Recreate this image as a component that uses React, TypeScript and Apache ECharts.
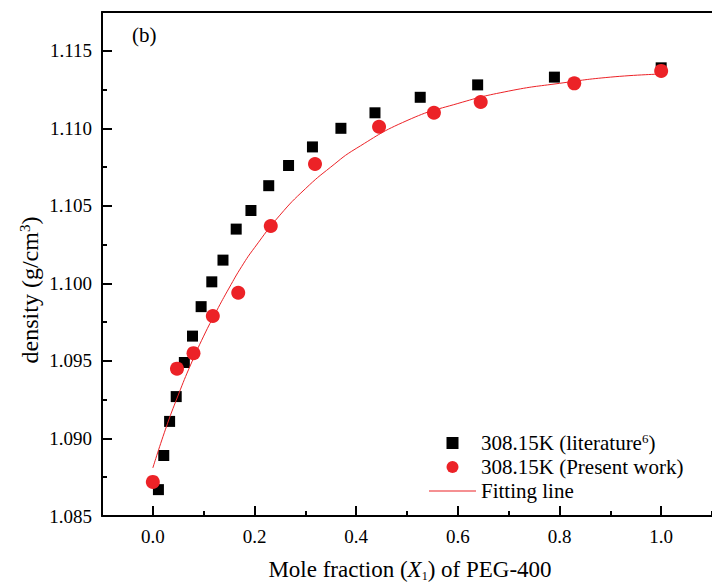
import React, { useEffect, useRef } from "react";
import * as echarts from "echarts";

// literature data (308.15 K)
const litX = [0.011, 0.0215, 0.033, 0.046, 0.062, 0.078, 0.095, 0.116, 0.138, 0.164, 0.193, 0.228, 0.267, 0.314, 0.37, 0.437, 0.526, 0.639, 0.79, 1.0];
const litY = [1.0867, 1.0889, 1.0911, 1.0927, 1.0949, 1.0966, 1.0985, 1.1001, 1.1015, 1.1035, 1.1047, 1.1063, 1.1076, 1.1088, 1.11, 1.111, 1.112, 1.1128, 1.1133, 1.1139];

// present work (308.15 K)
const presX = [0.0, 0.0475, 0.08, 0.118, 0.168, 0.232, 0.319, 0.445, 0.553, 0.645, 0.829, 1.0];
const presY = [1.0872, 1.0945, 1.0955, 1.0979, 1.0994, 1.1037, 1.1077, 1.1101, 1.111, 1.1117, 1.1129, 1.1137];

// fitting line
const fitX = [0.0, 0.025, 0.05, 0.075, 0.1, 0.125, 0.15, 0.175, 0.2, 0.25, 0.3, 0.35, 0.4, 0.5, 0.6, 0.7, 0.8, 0.9, 1.0];
const fitY = [1.0881, 1.0906, 1.0928, 1.0948, 1.0966, 1.0982, 1.0997, 1.1011, 1.1023, 1.1044, 1.1061, 1.1075, 1.1087, 1.1105, 1.1116, 1.1124, 1.1129, 1.1133, 1.1135];

const xMajorTicks = [0, 0.2, 0.4, 0.6, 0.8, 1.0];
const seriesNames = ["lit", "pres", "fit"];
const legendLabels: Record<string, string> = {
  lit: "{a|308.15K (literature}{sup|6}{a|)}",
  pres: "{a|308.15K (Present work)}",
  fit: "{a|Fitting line}",
};

const FONT = '"Liberation Serif", "Times New Roman", serif';
const RED = "#ec2227";

export default function App() {
  const ref = useRef<HTMLDivElement>(null);
  useEffect(() => {
    const chart = echarts.init(ref.current!, null, { renderer: "svg" });
    const zip = (xs: number[], ys: number[]) => xs.map((x, i) => [x, ys[i]]);
    const black = { color: "#000", width: 2 };
    const xBase = { type: "value", min: -0.1, max: 1.1, splitLine: { show: false } };
    const yBase = { type: "value", min: 1.085, max: 1.1175, splitLine: { show: false }, position: "left" };

    chart.setOption({
      animation: false,
      backgroundColor: "#fff",
      grid: { left: 102, right: -8, top: 12, bottom: 68, containLabel: false },
      xAxis: [
        {
          ...xBase,
          position: "bottom",
          interval: 0.1,
          axisLine: { show: true, onZero: false, lineStyle: black },
          axisTick: { show: true, inside: true, length: 5, lineStyle: black },
          axisLabel: { show: false },
        },
        {
          ...xBase,
          position: "bottom",
          interval: 0.1,
          axisLine: { show: false, onZero: false },
          axisTick: { show: true, inside: true, length: 10, lineStyle: black, customValues: xMajorTicks },
          axisLabel: {
            show: true,
            customValues: xMajorTicks,
            formatter: (v: number) => v.toFixed(1),
            fontFamily: FONT,
            fontSize: 19,
            color: "#000",
            margin: 11,
          },
        },
        {
          ...xBase,
          position: "top",
          interval: 0.1,
          axisLine: { show: true, onZero: false, lineStyle: black },
          axisTick: { show: false },
          axisLabel: { show: false },
        },
      ],
      yAxis: [
        {
          ...yBase,
          interval: 0.0025,
          axisLine: { show: true, onZero: false, lineStyle: black },
          axisTick: { show: true, inside: true, length: 5, lineStyle: black },
          axisLabel: { show: false },
        },
        {
          ...yBase,
          interval: 0.005,
          axisLine: { show: false, onZero: false },
          axisTick: { show: true, inside: true, length: 10, lineStyle: black },
          axisLabel: {
            show: true,
            showMaxLabel: false,
            formatter: (v: number) => v.toFixed(3),
            fontFamily: FONT,
            fontSize: 19,
            color: "#000",
            margin: 10,
          },
        },
      ],
      legend: {
        data: [
          { name: "lit", icon: "path://M0,0H10V10H0Z", itemStyle: { color: "#000", opacity: 1 } },
          { name: "pres", icon: "path://M6,0A6,6,0,1,1,6,12A6,6,0,1,1,6,0Z", itemStyle: { color: RED, opacity: 1 } },
          { name: "fit", icon: "path://M0,0H47V1.2H0Z", itemStyle: { color: RED, opacity: 1 } },
        ],
        orient: "vertical",
        left: 424,
        top: 427,
        itemWidth: 47,
        itemHeight: 12,
        itemGap: 3,
        symbolKeepAspect: true,
        formatter: (name: string) => legendLabels[name],
        textStyle: {
          color: "#000",
          fontFamily: FONT,
          fontSize: 21,
          rich: {
            a: { fontFamily: FONT, fontSize: 21, color: "#000", lineHeight: 22 },
            sup: { fontFamily: FONT, fontSize: 13, color: "#000", lineHeight: 12, verticalAlign: "top" },
          },
        },
      },
      graphic: [
        {
          type: "text",
          style: { text: "(b)", x: 132, y: 35, verticalAlign: "middle", font: `21px ${FONT}`, fill: "#000" },
        },
        {
          type: "text",
          style: {
            text: "{a|Mole fraction (}{i|X}{sub|1}{a|) of PEG-400}",
            x: 410,
            y: 569,
            align: "center",
            verticalAlign: "middle",
            rich: {
              a: { fontFamily: FONT, fontSize: 23, fill: "#000", lineHeight: 26 },
              i: { fontFamily: FONT, fontSize: 23, fontStyle: "italic", fill: "#000", lineHeight: 26 },
              sub: { fontFamily: FONT, fontSize: 12, fill: "#000", lineHeight: 14, verticalAlign: "bottom" },
            },
          },
        },
        {
          type: "text",
          x: 30,
          y: 290,
          rotation: Math.PI / 2,
          style: {
            text: "{a|density (g/cm}{sup|3}{a|)}",
            x: 0,
            y: 0,
            align: "center",
            verticalAlign: "middle",
            rich: {
              a: { fontFamily: FONT, fontSize: 24, fill: "#000", lineHeight: 26 },
              sup: { fontFamily: FONT, fontSize: 15, fill: "#000", lineHeight: 14, verticalAlign: "top" },
            },
          },
        },
      ],
      series: [
        {
          name: "lit",
          type: "scatter",
          xAxisIndex: 0,
          yAxisIndex: 0,
          symbol: "rect",
          symbolSize: 11,
          itemStyle: { color: "#000", opacity: 1 },
          data: zip(litX, litY),
          z: 2,
        },
        {
          name: "fit",
          type: "line",
          xAxisIndex: 0,
          yAxisIndex: 0,
          smooth: true,
          symbol: "none",
          lineStyle: { color: RED, width: 1 },
          itemStyle: { color: RED },
          data: zip(fitX, fitY),
          z: 3,
        },
        {
          name: "pres",
          type: "scatter",
          xAxisIndex: 0,
          yAxisIndex: 0,
          symbol: "circle",
          symbolSize: 14,
          itemStyle: { color: RED, opacity: 1 },
          data: zip(presX, presY),
          z: 4,
        },
      ],
    });
    return () => chart.dispose();
  }, []);
  return <div ref={ref} style={{ position: "fixed", left: 0, top: 0, width: 712, height: 584 }} />;
}
